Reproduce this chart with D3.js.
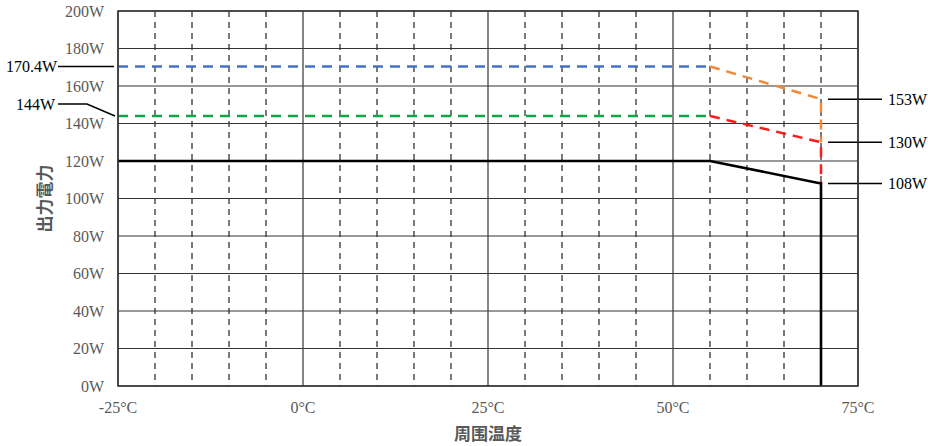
<!DOCTYPE html>
<html><head><meta charset="utf-8">
<script src="https://cdn.jsdelivr.net/npm/d3@7"></script>
<style>body{margin:0;background:#fff}</style>
</head><body><svg id="c" width="928" height="446"></svg>
<script>
const yTicks = [0,20,40,60,80,100,120,140,160,180,200];
const xTicks = [-25,0,25,50,75];
const xGrid = [-20,-15,-10,-5,5,10,15,20,30,35,40,45,55,60,65,70];
const blueSeries = [[-25,170.4],[55,170.4]];
const orangeSeries = [[55,170.4],[70,153],[70,130]];
const greenSeries = [[-25,144],[55,144]];
const redSeries = [[55,144],[70,130],[70,108]];
const blackSeries = [[-25,120],[55,120],[70,108],[70,0]];
const leftLabels = [{v:170.4,t:"170.4W"},{v:144,t:"144W"}];
const rightLabels = [{v:153,t:"153W"},{v:130,t:"130W"},{v:108,t:"108W"}];

const svg = d3.select("#c");
const x = d3.scaleLinear().domain([-25,75]).range([118,858]);
const y = d3.scaleLinear().domain([0,200]).range([386,11]);
const serif = "'Liberation Serif','Times New Roman',serif";
const cjk = "'Noto Sans CJK SC','Noto Sans CJK JP',sans-serif";

svg.append("g").selectAll("line").data(yTicks).join("line")
  .attr("x1",x(-25)).attr("x2",x(75)).attr("y1",d=>y(d)).attr("y2",d=>y(d))
  .attr("stroke","#333").attr("stroke-width",1.2);
svg.append("g").selectAll("line").data(xGrid).join("line")
  .attr("x1",d=>x(d)).attr("x2",d=>x(d)).attr("y1",y(200)).attr("y2",y(0))
  .attr("stroke","#333").attr("stroke-width",1.3).attr("stroke-dasharray","6,5");
svg.append("g").selectAll("line").data(xTicks).join("line")
  .attr("x1",d=>x(d)).attr("x2",d=>x(d)).attr("y1",y(200)).attr("y2",y(0))
  .attr("stroke","#444").attr("stroke-width",1.3);

svg.append("g").selectAll("text").data(yTicks).join("text")
  .attr("x",104).attr("y",d=>y(d)+5.5).attr("text-anchor","end")
  .attr("font-family",serif).attr("font-size",16).attr("fill","#595959")
  .text(d=>d+"W");
svg.append("g").selectAll("text").data(xTicks).join("text")
  .attr("x",d=>x(d)).attr("y",413).attr("text-anchor","middle")
  .attr("font-family",serif).attr("font-size",16).attr("fill","#595959")
  .text(d=>d+"°C");

svg.append("text").attr("x",x(25)).attr("y",440).attr("text-anchor","middle")
  .attr("font-family",cjk).attr("font-size",17).attr("font-weight","bold").attr("fill","#595959").text("周围温度");
svg.append("text").attr("transform",`translate(51,${y(100)}) rotate(-90)`).attr("text-anchor","middle")
  .attr("font-family",cjk).attr("font-size",17).attr("font-weight","bold").attr("fill","#595959").text("出力電力");

const line = d3.line().x(d=>x(d[0])).y(d=>y(d[1]));
function dashed(data,color){
  svg.append("path").attr("d",line(data)).attr("fill","none").attr("stroke",color)
    .attr("stroke-width",2.5).attr("stroke-dasharray","10,7");
}
dashed(blueSeries,"#4472C4");
dashed(greenSeries,"#0FA64A");
dashed(orangeSeries,"#F08A3A");
dashed(redSeries,"#FF1A1A");
svg.append("path").attr("d",line(blackSeries)).attr("fill","none").attr("stroke","#000").attr("stroke-width",2.6);

svg.append("line").attr("x1",58).attr("x2",114).attr("y1",y(170.4)).attr("y2",y(170.4)).attr("stroke","#000").attr("stroke-width",1.5);
svg.append("path").attr("d",`M58,${y(144)-12}L87,${y(144)-12}L115,${y(144)}`).attr("fill","none").attr("stroke","#000").attr("stroke-width",1.5);
svg.append("text").attr("x",57).attr("y",y(170.4)+5.5).attr("text-anchor","end").attr("font-family",serif).attr("font-size",16).attr("fill","#000").text(leftLabels[0].t);
svg.append("text").attr("x",55).attr("y",y(144)-12+5.5).attr("text-anchor","end").attr("font-family",serif).attr("font-size",16).attr("fill","#000").text(leftLabels[1].t);
const rg = svg.append("g").selectAll("g").data(rightLabels).join("g");
rg.append("line").attr("x1",828).attr("x2",882).attr("y1",d=>y(d.v)).attr("y2",d=>y(d.v)).attr("stroke","#000").attr("stroke-width",1.5);
rg.append("text").attr("x",888).attr("y",d=>y(d.v)+5.5).attr("font-family",serif).attr("font-size",16).attr("fill","#000").text(d=>d.t);

svg.append("rect").attr("x",x(-25)).attr("y",y(200)).attr("width",x(75)-x(-25)).attr("height",y(0)-y(200))
  .attr("fill","none").attr("stroke","#333").attr("stroke-width",1.5);
</script></body></html>
